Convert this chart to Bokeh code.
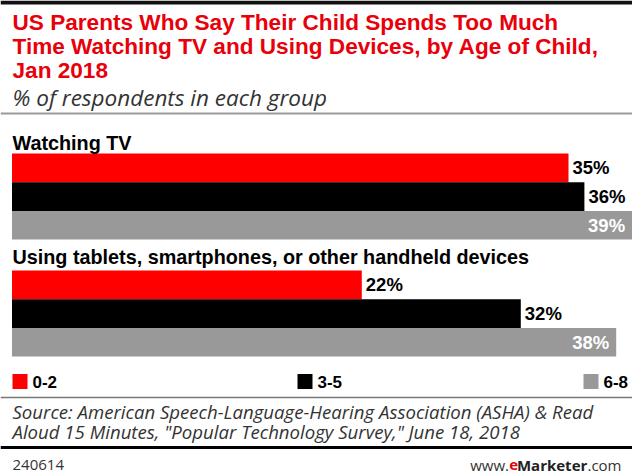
from bokeh.plotting import figure
from bokeh.models import Range1d, Label, Span, ColumnDataSource
from bokeh.core.properties import value
from bokeh.embed import file_html
from bokeh.resources import INLINE

# ---- data ----
title_lines = ["US Parents Who Say Their Child Spends Too Much",
               "Time Watching TV and Using Devices, by Age of Child,",
               "Jan 2018"]
subtitle = "% of respondents in each group"
groups = ["Watching TV", "Using tablets, smartphones, or other handheld devices"]
ages = ["0-2", "3-5", "6-8"]
values_tv = [35, 36, 39]
values_devices = [22, 32, 38]
colors = ["#ff0000", "#000000", "#999999"]
source_lines = ["Source: American Speech-Language-Hearing Association (ASHA) & Read",
                "Aloud 15 Minutes, \"Popular Technology Survey,\" June 18, 2018"]
chart_id = "240614"

# ---- layout ----
W, H = 632, 476
X0 = 11.5          # pixel where 0% sits
PX_PER_PCT = 15.9  # pixels per percentage point


def px2x(px):
    return (px - X0) / PX_PER_PCT


p = figure(width=W, height=H, output_backend="svg", toolbar_location=None,
           x_range=Range1d(px2x(0), px2x(W)), y_range=Range1d(H, 0),
           min_border=0, min_border_left=0, min_border_right=0,
           min_border_top=0, min_border_bottom=0)
p.xaxis.visible = False
p.yaxis.visible = False
p.grid.visible = False
p.outline_line_color = None
p.background_fill_color = "white"
p.border_fill_color = "white"

COND = "Liberation Sans"
BAR_H = 28.7
group_tops = [153, 270]
group_vals = [values_tv, values_devices]

ys, rights, cols, lbl = [], [], [], []
for gi, vals in enumerate(group_vals):
    for k, v in enumerate(vals):
        ys.append(group_tops[gi] + BAR_H * (k + 0.5))
        rights.append(v)
        cols.append(colors[k])
        lbl.append(f"{v}%")

src = ColumnDataSource(dict(y=ys, right=rights, color=cols, label=lbl))
p.hbar(y="y", left=0, right="right", height=BAR_H, fill_color="color",
       line_color=None, source=src)

# value labels: outside for first two series, inside (white) for last series
out_idx = [i for i in range(len(ys)) if i % 3 != 2]
in_idx = [i for i in range(len(ys)) if i % 3 == 2]
src_out = ColumnDataSource(dict(x=[rights[i] for i in out_idx], y=[ys[i] for i in out_idx],
                                t=[lbl[i] for i in out_idx]))
src_in = ColumnDataSource(dict(x=[rights[i] for i in in_idx], y=[ys[i] for i in in_idx],
                               t=[lbl[i] for i in in_idx]))
p.text(x="x", y="y", text="t", source=src_out, x_offset=4, text_align="left",
       text_baseline="middle", text_font=value(COND), text_font_style="bold",
       text_font_size="18.5px", text_color="#000000")
p.text(x="x", y="y", text="t", source=src_in, x_offset=-7, text_align="right",
       text_baseline="middle", text_font=value(COND), text_font_style="bold",
       text_font_size="18.5px", text_color="#ffffff")

# group headers
header_y = [142, 256]
for g, hy in zip(groups, header_y):
    p.add_layout(Label(x=12, y=hy, x_units="screen", text=g, text_font=COND,
                       text_font_style="bold", text_font_size="19.8px",
                       text_color="#000000", text_baseline="middle"))

# title
for t, ty in zip(title_lines, [22, 46, 70]):
    p.add_layout(Label(x=12, y=ty, x_units="screen", text=t, text_font=COND,
                       text_font_style="bold", text_font_size="22.6px",
                       text_color="#e8000b", text_baseline="middle"))
p.add_layout(Label(x=12, y=97, x_units="screen", text=subtitle, text_font="Open Sans",
                   text_font_style="italic", text_font_size="22.5px",
                   text_color="#333333", text_baseline="middle"))

# rules
p.add_layout(Span(location=2, dimension="width", line_color="#111111", line_width=4))
p.add_layout(Span(location=113, dimension="width", line_color="#999999", line_width=2))
p.add_layout(Span(location=397, dimension="width", line_color="#777777", line_width=1.5))
p.add_layout(Span(location=447, dimension="width", line_color="#000000", line_width=3))

# legend
leg_px = [12, 297, 583]
leg_y = 381
leg_src = ColumnDataSource(dict(x=[px2x(px + 7.5) for px in leg_px], y=[leg_y] * 3,
                                color=colors))
p.rect(x="x", y="y", width=15 / PX_PER_PCT, height=15, fill_color="color",
       line_color=None, source=leg_src)
for a, px in zip(ages, leg_px):
    p.add_layout(Label(x=px + 20, y=leg_y, x_units="screen", text=a, text_font=COND,
                       text_font_style="bold", text_font_size="17px",
                       text_color="#000000", text_baseline="middle"))

# source
for t, ty in zip(source_lines, [411, 431]):
    p.add_layout(Label(x=12, y=ty, x_units="screen", text=t, text_font="Open Sans",
                       text_font_style="italic", text_font_size="18.6px",
                       text_color="#333333", text_baseline="middle"))

FOOT = 15
p.add_layout(Label(x=12, y=464, x_units="screen", text=chart_id, text_font="Open Sans",
                   text_font_size=f"{FOOT}px", text_color="#333333", text_baseline="middle"))
# www.eMarketer.com, built right-to-left from estimated segment widths
segs = [(".com", "normal", "#333333", 2.28),
        ("Marketer", "bold", "#222222", 4.62),
        ("e", "bold", "#e8000b", 0.60),
        ("www.", "normal", "#333333", 0)]
xr = 621
for t, style, col, w_em in segs:
    p.add_layout(Label(x=xr, y=464, x_units="screen", text=t, text_font="Open Sans",
                       text_font_style=style, text_font_size=f"{FOOT}px", text_color=col,
                       text_baseline="middle", text_align="right"))
    xr -= w_em * FOOT

open("out.html", "w").write(file_html(p, INLINE))
